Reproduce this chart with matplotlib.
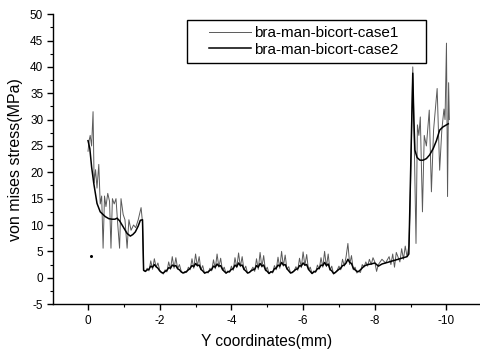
import numpy as np
import matplotlib
matplotlib.use("Agg")
import matplotlib.pyplot as plt
from matplotlib.lines import Line2D
from matplotlib.legend_handler import HandlerLine2D

plt.rcParams['font.family'] = ['Liberation Sans', 'DejaVu Sans']
plt.rcParams['axes.unicode_minus'] = False

# ---------------- data ----------------
# left segment (x from 0 to -1.52)
c1_left_x = [0.0, -0.03, -0.06, -0.10, -0.14, -0.17, -0.21, -0.25, -0.30, -0.34, -0.38, -0.42,
             -0.46, -0.50, -0.55, -0.60, -0.64, -0.68, -0.73, -0.78, -0.83, -0.88, -0.92,
             -0.98, -1.03, -1.09, -1.14, -1.20, -1.27, -1.33, -1.40, -1.48, -1.52]
c1_left_y = [24.0, 26.0, 27.0, 25.0, 31.5, 18.0, 20.5, 17.0, 21.5, 14.0, 15.5, 5.6,
             15.5, 13.5, 16.0, 14.5, 5.6, 15.0, 14.0, 15.0, 10.0, 5.6, 15.0,
             12.0, 11.0, 5.6, 11.0, 9.0, 10.0, 9.5, 11.0, 13.3, 10.5]

c2_left_x = [0.0, -0.05, -0.10, -0.16, -0.25, -0.34, -0.48, -0.58, -0.67, -0.75, -0.81,
             -0.88, -0.95, -1.02, -1.09, -1.18, -1.25, -1.32, -1.40, -1.46, -1.52]
c2_left_y = [26.0, 24.5, 21.0, 17.9, 14.1, 12.5, 11.6, 11.2, 11.1, 11.1, 11.3,
             10.8, 10.0, 9.2, 8.4, 7.9, 8.2, 8.7, 9.8, 10.9, 11.0]

# middle low segment, sampled every 0.05 mm from -1.55 to -7.50
mid_start = -1.55
mid_step = -0.05
c1_mid_y = [1.5, 1.2, 1.8, 1.3, 3.2, 1.6, 3.6, 2.0, 2.8, 1.4,
            1.0, 0.7, 1.5, 1.1, 3.0, 1.6, 4.0, 1.8, 3.8, 1.7, 2.5, 1.2,
            0.9, 1.2, 1.0, 2.0, 1.5, 3.6, 1.8, 4.5, 2.2, 4.0, 1.5, 2.3,
            0.8, 1.1, 0.9, 1.8, 1.3, 3.4, 1.7, 4.5, 2.0, 3.7, 1.4, 2.0,
            0.8, 1.3, 1.0, 2.2, 1.4, 3.8, 1.9, 4.7, 2.1, 4.0, 1.5, 2.2,
            0.9, 1.0, 1.4, 2.0, 1.2, 3.6, 1.6, 4.8, 2.0, 4.2, 1.3, 2.0,
            0.8, 1.2, 0.9, 2.3, 1.5, 3.9, 1.8, 5.0, 2.2, 4.3, 1.6, 2.1,
            0.9, 1.1, 1.3, 2.1, 1.4, 3.7, 1.9, 4.9, 2.3, 4.4, 1.5, 2.0,
            0.8, 1.3, 1.0, 2.4, 1.6, 3.8, 2.0, 5.0, 2.1, 4.5, 1.4, 2.2,
            0.7, 1.0, 1.4, 2.2, 1.5, 3.5, 2.2, 4.0, 6.5, 2.5, 4.2, 1.5, 2.0, 0.9]
c2_mid_y = [1.4, 1.2, 1.5, 1.6, 2.2, 2.0, 2.5, 2.1, 1.8, 1.3,
            1.0, 0.9, 1.2, 1.4, 1.9, 1.8, 2.4, 2.2, 2.3, 1.7, 1.5, 1.1,
            0.9, 1.0, 1.2, 1.5, 1.8, 2.3, 2.1, 2.7, 2.3, 2.4, 1.6, 1.3,
            0.9, 1.0, 1.1, 1.4, 1.6, 2.2, 2.0, 2.6, 2.2, 2.3, 1.6, 1.2,
            0.9, 1.1, 1.2, 1.6, 1.7, 2.4, 2.1, 2.8, 2.3, 2.4, 1.6, 1.3,
            0.9, 1.0, 1.3, 1.5, 1.6, 2.3, 2.0, 2.7, 2.2, 2.4, 1.5, 1.2,
            0.8, 1.1, 1.1, 1.7, 1.8, 2.4, 2.2, 2.9, 2.4, 2.5, 1.7, 1.3,
            0.9, 1.0, 1.3, 1.6, 1.7, 2.3, 2.2, 2.8, 2.4, 2.5, 1.6, 1.2,
            0.8, 1.1, 1.2, 1.7, 1.8, 2.4, 2.3, 2.9, 2.3, 2.6, 1.6, 1.3,
            0.8, 1.0, 1.3, 1.6, 1.8, 2.3, 2.4, 2.8, 3.5, 2.9, 2.7, 1.8, 1.5, 1.2]

# right segment (x from -7.55 to -10.08)
c1_right_x = [-7.55, -7.60, -7.65, -7.70, -7.75, -7.80, -7.85, -7.90, -7.95, -8.00, -8.05,
              -8.10, -8.20, -8.30, -8.40, -8.45, -8.50, -8.55, -8.60, -8.70, -8.75, -8.80,
              -8.85, -8.90, -8.95, -8.98, -9.02, -9.06, -9.09, -9.15, -9.19, -9.23, -9.27,
              -9.33, -9.38, -9.44, -9.52, -9.58, -9.64, -9.74, -9.81, -9.87, -9.93, -9.96,
              -10.00, -10.03, -10.06, -10.08]
c1_right_y = [1.2, 1.0, 2.5, 2.0, 3.0, 2.2, 3.5, 2.5, 3.8, 3.0, 1.2,
              2.5, 3.5, 2.8, 4.0, 2.5, 4.5, 2.0, 4.8, 3.0, 5.5, 3.5,
              6.0, 4.0, 6.0, 12.0, 25.0, 40.0, 30.0, 6.5, 29.0, 27.0, 30.5,
              12.5, 27.0, 25.0, 31.8, 16.3, 28.0, 35.9, 20.4, 28.0, 32.0, 30.0,
              44.5, 15.4, 37.0, 30.0]

c2_right_x = [-7.55, -7.60, -7.70, -7.80, -7.90, -8.00, -8.10, -8.20, -8.40, -8.60, -8.80,
              -8.90, -8.95, -9.00, -9.06, -9.09, -9.12, -9.18, -9.26, -9.35, -9.44, -9.53,
              -9.63, -9.72, -9.81, -9.90, -10.00, -10.05]
c2_right_y = [1.2, 1.5, 2.2, 2.5, 2.6, 2.8, 2.2, 2.6, 3.0, 3.4, 3.8,
              4.0, 4.5, 20.0, 38.8, 30.0, 24.2, 22.8, 22.3, 22.3, 22.6, 23.3,
              24.5, 26.0, 28.0, 28.6, 29.0, 29.2]

stray_x = [-0.09]
stray_y = [4.1]

labels = ['bra-man-bicort-case1', 'bra-man-bicort-case2']

# -------------- assemble --------------
mid_x = list(np.round(mid_start + mid_step * np.arange(len(c1_mid_y)), 3))
c1_x = c1_left_x + mid_x + c1_right_x
c1_y = c1_left_y + c1_mid_y + c1_right_y
c2_x = c2_left_x + mid_x + c2_right_x
c2_y = c2_left_y + c2_mid_y + c2_right_y

fig = plt.figure(figsize=(4.81, 3.54), dpi=100)
ax = fig.add_axes([0.110, 0.141, 0.889, 0.819])

ax.plot(c1_x, c1_y, color='#5a5a5a', lw=0.7, label=labels[0])
ax.plot(c2_x, c2_y, color='black', lw=1.1, label=labels[1])
ax.plot(stray_x, stray_y, 'o', color='black', ms=1.2)

ax.set_xlim(0.98, -10.95)
ax.set_ylim(-5, 50)
ax.set_xticks([0, -2, -4, -6, -8, -10])
ax.set_xticks([-1, -3, -5, -7, -9], minor=True)
ax.set_yticks(np.arange(-5, 51, 5))
ax.set_yticks(np.arange(-2.5, 50, 5), minor=True)

for s in ['top', 'right']:
    ax.spines[s].set_visible(False)
ax.spines['left'].set_linewidth(1.0)
ax.spines['bottom'].set_linewidth(1.0)
ax.tick_params(which='major', direction='out', length=4.5, width=1, labelsize=8.5)
ax.tick_params(axis='x', which='major', pad=3.5)
ax.tick_params(axis='y', which='major', pad=2.5)
ax.tick_params(which='minor', direction='out', length=2.5, width=0.8)

ax.set_xlabel('Y coordinates(mm)', fontsize=11.2)
ax.set_ylabel('von mises stress(MPa)', fontsize=11.5)
# place axis labels at measured positions (axes fraction)
ax.xaxis.set_label_coords(0.5, -0.1035)
ax.yaxis.set_label_coords(-0.070, 0.5)

leg_fs = 11
leg = ax.legend(loc='upper left',
                bbox_to_anchor=(187 / 481, 1 - 71 / 354, 239 / 481, 51 / 354),
                bbox_transform=fig.transFigure, mode='expand', fontsize=leg_fs,
                fancybox=False, framealpha=1, edgecolor='black',
                handlelength=3.8, handletextpad=0.2, borderpad=0.42,
                labelspacing=0.15, borderaxespad=0,
                handler_map={Line2D: HandlerLine2D(xpad=1.05)})
leg.get_frame().set_linewidth(1.0)

fig.savefig('out.png', dpi=100)
